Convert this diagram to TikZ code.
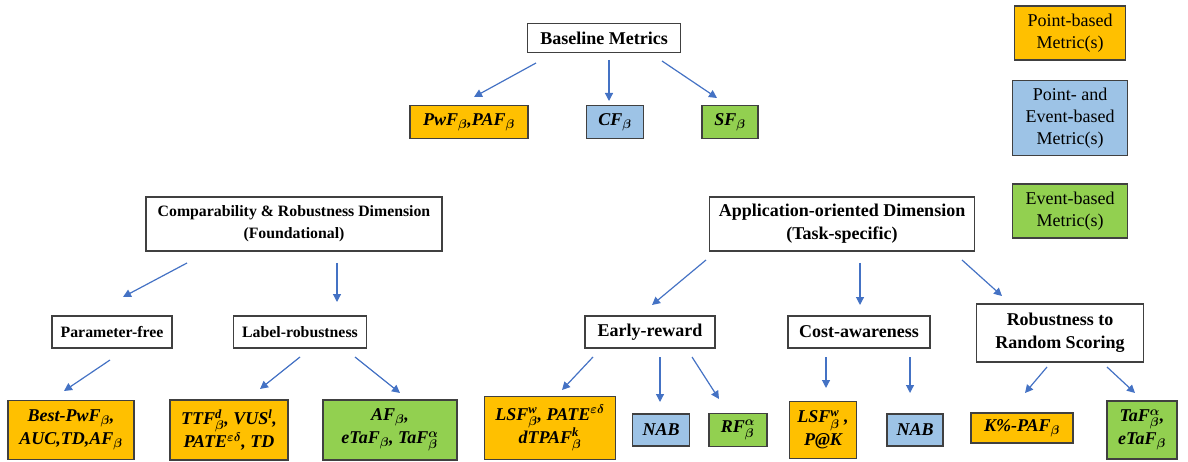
\RequirePackage{fix-cm}
\documentclass[tikz,border=0pt]{standalone}
\usepackage{amsmath,bm}
\usepackage{fontspec}
\setmainfont{Liberation Serif}
\usetikzlibrary{arrows.meta}

\definecolor{ptorange}{HTML}{FFC000}
\definecolor{bothblue}{HTML}{9DC3E6}
\definecolor{evgreen}{HTML}{92D050}
\definecolor{linkblue}{HTML}{4472C4}
\definecolor{boxline}{HTML}{404040}

% metric sub- and superscripts
\newcommand{\sbeta}{$_{\bm\beta}$}
\newcommand{\supbeta}[1]{$^{\text{#1}}_{\bm\beta}$}
\newcommand{\abeta}{$^{\bm\alpha}_{\bm\beta}$}
\newcommand{\epsdel}{$^{\bm{\varepsilon\delta}}$}

\begin{document}
\begin{tikzpicture}[x=1pt, y=-1pt,
	box/.style={draw=boxline, line width=1.3pt, align=center, inner sep=0pt, font=\fontsize{18}{23}\selectfont\bfseries},
	leftbox/.style={box, font=\fontsize{15.8}{22}\selectfont\bfseries},
	metric/.style={box, font=\fontsize{18}{23}\selectfont\bfseries\itshape},
	pointbox/.style={metric, fill=ptorange},
	bothbox/.style={metric, fill=bothblue},
	eventbox/.style={metric, fill=evgreen},
	legendbox/.style={box, font=\fontsize{18}{22}\selectfont},
	link/.style={linkblue, line width=1.2pt, -{Triangle[length=8pt,width=8pt]}}]
	\useasboundingbox (0,0) rectangle (1188,462);
	% Root and baseline metrics:
	\node[box, minimum width=153, minimum height=29] (base) at (604,38) {Baseline Metrics};
	\node[pointbox, minimum width=118, minimum height=33] (pwf) at (469,122) {PwF\sbeta,PAF\sbeta};
	\node[bothbox, minimum width=57, minimum height=33] (cf) at (615,122) {CF\sbeta};
	\node[eventbox, minimum width=56, minimum height=33] (sf) at (730,122) {SF\sbeta};
	% Legend:
	\node[legendbox, fill=ptorange, minimum width=111, minimum height=54] (legpoint) at (1070,33) {Point-based\\Metric(s)};
	\node[legendbox, fill=bothblue, minimum width=115, minimum height=75] (legboth) at (1070,118) {Point- and\\Event-based\\Metric(s)};
	\node[legendbox, fill=evgreen, minimum width=115, minimum height=54] (legevent) at (1070,211) {Event-based\\Metric(s)};
	% Dimensions:
	\node[leftbox, minimum width=296, minimum height=54] (comp) at (294,224) {Comparability \& Robustness Dimension\\(Foundational)};
	\node[box, minimum width=265, minimum height=54] (appl) at (842,224) {Application-oriented Dimension\\(Task-specific)};
	% Properties:
	\node[leftbox, minimum width=120, minimum height=32] (pfree) at (112,332) {Parameter-free};
	\node[leftbox, minimum width=133, minimum height=32] (label) at (300,332) {Label-robustness};
	\node[box, minimum width=130, minimum height=32] (early) at (650,332) {Early-reward};
	\node[box, minimum width=142, minimum height=32] (cost) at (859,332) {Cost-awareness};
	\node[box, minimum width=167, minimum height=58] (robust) at (1060,333) {Robustness to\\Random Scoring};
	% Metrics:
	\node[pointbox, minimum width=126, minimum height=59] (best) at (71,430) {Best-PwF\sbeta,\\AUC,TD,AF\sbeta};
	\node[pointbox, minimum width=118, minimum height=60] (ttf) at (229,430) {TTF\supbeta{d}, VUS$^{\text{l}}$,\\PATE\epsdel, TD};
	\node[eventbox, minimum width=134, minimum height=60] (af) at (390,430) {AF\sbeta,\\eTaF\sbeta, TaF\abeta};
	\node[pointbox, minimum width=131, minimum height=63] (lsfa) at (550,428) {LSF\supbeta{w}, PATE\epsdel\\dTPAF\supbeta{k}};
	\node[bothbox, minimum width=57, minimum height=32] (naba) at (661,430) {NAB};
	\node[eventbox, minimum width=58, minimum height=33] (rf) at (738,430) {RF\abeta};
	\node[pointbox, minimum width=67, minimum height=57] (lsfb) at (823,430) {LSF\supbeta{w} ,\\P@K};
	\node[bothbox, minimum width=56, minimum height=32] (nabb) at (915,430) {NAB};
	\node[pointbox, minimum width=102, minimum height=30] (kpaf) at (1022,428) {K\%-PAF\sbeta};
	\node[eventbox, minimum width=70, minimum height=58] (taf) at (1142,430) {TaF\abeta,\\eTaF\sbeta};
	% Arrow ends:
	\coordinate (base-a) at (536,63);  \coordinate (pwf-a) at (474,97);
	\coordinate (base-b) at (609,60);  \coordinate (cf-a) at (609,101);
	\coordinate (base-c) at (662,61);  \coordinate (sf-a) at (717,98);
	\coordinate (comp-a) at (187,263); \coordinate (pfree-a) at (123,297);
	\coordinate (comp-b) at (337,263); \coordinate (label-a) at (337,302);
	\coordinate (appl-a) at (706,260); \coordinate (early-a) at (652,305);
	\coordinate (appl-b) at (860,263); \coordinate (cost-a) at (860,305);
	\coordinate (appl-c) at (962,260); \coordinate (robust-a) at (1002,296);
	\coordinate (pfree-b) at (110,360); \coordinate (best-a) at (64,391);
	\coordinate (label-b) at (300,357); \coordinate (ttf-a) at (260,389);
	\coordinate (label-c) at (355,357); \coordinate (af-a) at (400,393);
	\coordinate (early-b) at (593,357); \coordinate (lsfa-a) at (562,390);
	\coordinate (early-c) at (660,357); \coordinate (naba-a) at (660,402);
	\coordinate (early-d) at (692,357); \coordinate (rf-a) at (719,399);
	\coordinate (cost-b) at (826,357); \coordinate (lsfb-a) at (826,388);
	\coordinate (cost-c) at (910,357); \coordinate (nabb-a) at (910,393);
	\coordinate (robust-b) at (1047,367); \coordinate (kpaf-a) at (1025,393);
	\coordinate (robust-c) at (1107,367); \coordinate (taf-a) at (1135,393);
	% Arrows:
	\foreach \from/\to in {base-a/pwf-a, base-b/cf-a, base-c/sf-a, comp-a/pfree-a, comp-b/label-a,
		appl-a/early-a, appl-b/cost-a, appl-c/robust-a, pfree-b/best-a, label-b/ttf-a, label-c/af-a,
		early-b/lsfa-a, early-c/naba-a, early-d/rf-a, cost-b/lsfb-a, cost-c/nabb-a, robust-b/kpaf-a, robust-c/taf-a}
		\draw[link] (\from) -- (\to);
\end{tikzpicture}
\end{document}
